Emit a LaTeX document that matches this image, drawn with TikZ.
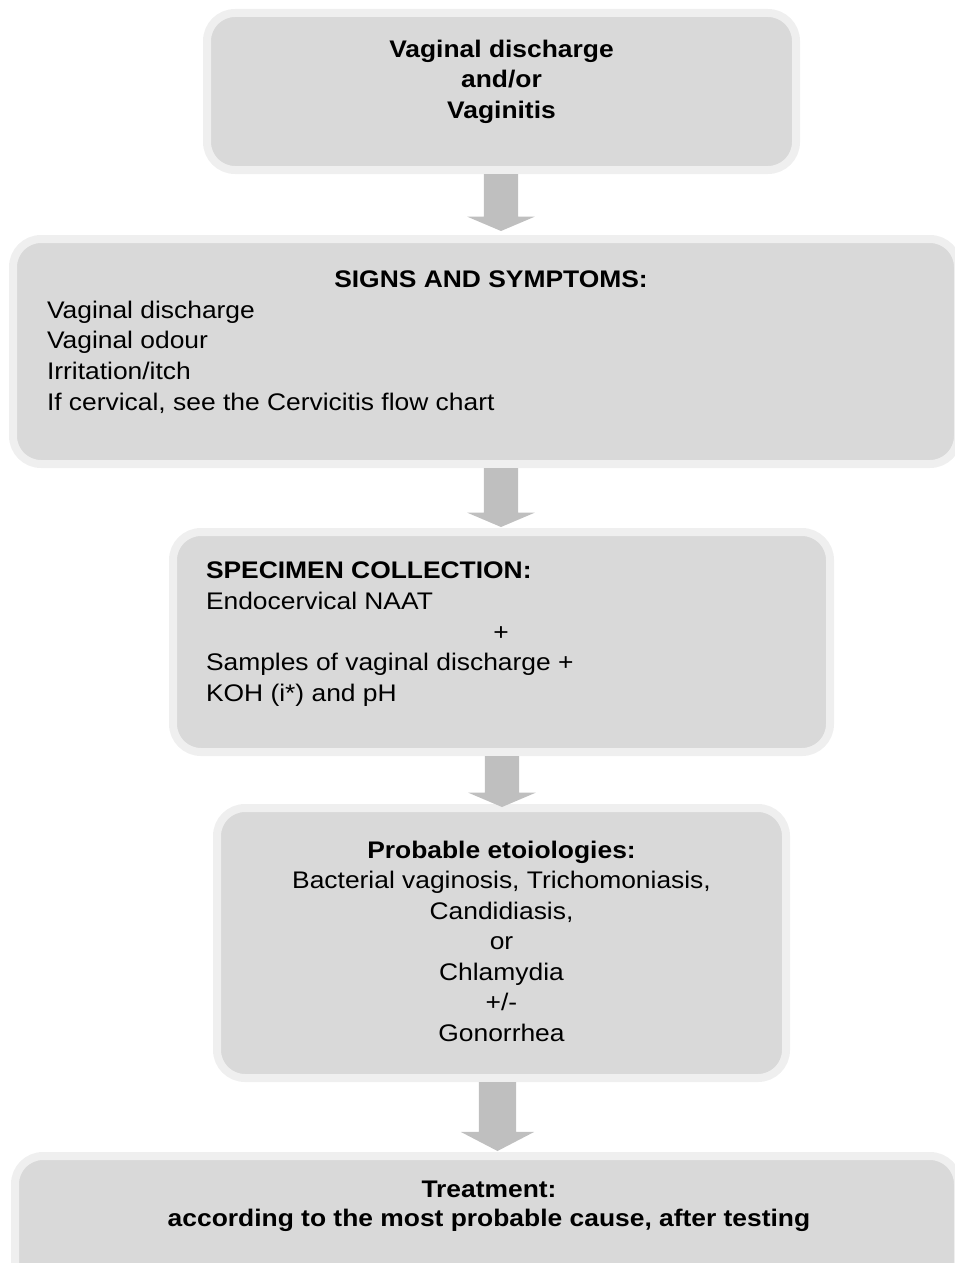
\documentclass[tikz,border=0pt]{standalone}
\usepackage{fontspec}
\setmainfont{Liberation Sans}[FakeStretch=1.1]
\usetikzlibrary{shapes.arrows}
\definecolor{boxfill}{HTML}{D9D9D9}
\definecolor{boxring}{HTML}{EFEFEF}
\definecolor{arrowfill}{HTML}{BFBFBF}
\begin{document}
\begin{tikzpicture}[x=1pt,y=-1pt,
  box/.style={draw=boxring, fill=boxfill, line width=8pt, rounded corners=28pt, inner sep=0pt, outer sep=4pt},
  blockarrow/.style={single arrow, fill=arrowfill, draw=none, inner xsep=0pt, inner ysep=17pt, outer sep=0pt, rotate=-90, anchor=tail,
    single arrow head extend=16.5pt, single arrow tip angle=134},
  txt/.style={inner sep=0pt, outer sep=0pt, font=\fontsize{24pt}{31pt}\selectfont},
  btxt/.style={inner sep=0pt, outer sep=0pt, font=\fontsize{24pt}{31pt}\selectfont\bfseries}]
\useasboundingbox (0,0) rectangle (955,1263);

% boxes
\node[box, minimum width=589pt, minimum height=157pt] (box1) at (501.5,91.5) {};
\node[box, minimum width=945pt, minimum height=225pt] (box2) at (485.5,351.5) {};
\node[box, minimum width=657pt, minimum height=220pt] (box3) at (501.5,642) {};
\node[box, minimum width=569pt, minimum height=270pt] (box4) at (501.5,943) {};
\node[box, minimum width=943pt, minimum height=134pt] (box5) at (486.5,1223) {};

% arrow axes
\coordinate (ax1) at (501,0);
\coordinate (ax3) at (502,0);
\coordinate (ax4) at (497.5,0);

% block arrows
\node[blockarrow, minimum height=57pt] (arr1) at (box1.south -| ax1) {};
\node[blockarrow, minimum height=59pt] (arr2) at (box2.south -| ax1) {};
\node[blockarrow, minimum height=51pt] (arr3) at (box3.south -| ax3) {};
\node[blockarrow, minimum height=69pt, inner ysep=18.5pt, single arrow head extend=18pt, single arrow tip angle=125] (arr4) at (box4.south -| ax4) {};

% box 1 text
\node[btxt, anchor=base] (t1a) at (501.5,57.5) {Vaginal discharge};
\node[btxt, anchor=base] (t1b) at (501.5,88) {and/or};
\node[btxt, anchor=base] (t1c) at (501.5,118.5) {Vaginitis};

% box 2 text
\node[btxt, anchor=base] (t2a) at (491,287) {SIGNS AND SYMPTOMS:};
\node[txt, anchor=base west] (t2b) at (47,318) {Vaginal discharge};
\node[txt, anchor=base west] (t2c) at (47,348.5) {Vaginal odour};
\node[txt, anchor=base west] (t2d) at (47,379) {Irritation/itch};
\node[txt, anchor=base west] (t2e) at (47,410) {If cervical, see the Cervicitis flow chart};

% box 3 text
\node[btxt, anchor=base west] (t3a) at (206,578) {SPECIMEN COLLECTION:};
\node[txt, anchor=base west] (t3b) at (206,609) {Endocervical NAAT};
\node[txt, anchor=base] (t3c) at (501,640) {+};
\node[txt, anchor=base west] (t3d) at (206,670) {Samples of vaginal discharge +};
\node[txt, anchor=base west] (t3e) at (206,701) {KOH (i*) and pH};

% box 4 text
\node[btxt, anchor=base] (t4a) at (501.5,858) {Probable etoiologies:};
\node[txt, anchor=base] (t4b) at (501.5,888.5) {Bacterial vaginosis, Trichomoniasis,};
\node[txt, anchor=base] (t4c) at (501.5,919) {Candidiasis,};
\node[txt, anchor=base] (t4d) at (501.5,949.5) {or};
\node[txt, anchor=base] (t4e) at (501.5,980) {Chlamydia};
\node[txt, anchor=base] (t4f) at (501.5,1010.5) {+/-};
\node[txt, anchor=base] (t4g) at (501.5,1041) {Gonorrhea};

% box 5 text
\node[btxt, anchor=base] (t5a) at (489,1197) {Treatment:};
\node[btxt, anchor=base] (t5b) at (489,1226) {according to the most probable cause, after testing};
\end{tikzpicture}
\end{document}
